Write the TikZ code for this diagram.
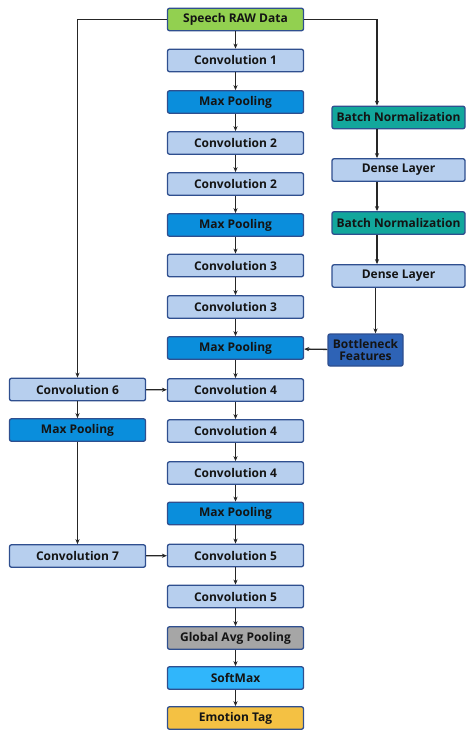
\documentclass[tikz,border=0pt]{standalone}
\usepackage{fontspec}
\setmainfont{Open Sans}
\usetikzlibrary{arrows.meta}
\definecolor{edge}{HTML}{2F4F8F}
\definecolor{rawc}{HTML}{92D050}
\definecolor{convc}{HTML}{B7CFEE}
\definecolor{poolc}{HTML}{0A8EDC}
\definecolor{bnc}{HTML}{12A79C}
\definecolor{bneckc}{HTML}{2E63B6}
\definecolor{gapc}{HTML}{A6A6A6}
\definecolor{softc}{HTML}{30B6FB}
\definecolor{tagc}{HTML}{F4C143}
\definecolor{txt}{HTML}{141414}
\tikzset{
  x=1pt, y=-1pt,
  block/.style={draw=edge, line width=1.3pt, rounded corners=2pt,
    minimum width=136pt, minimum height=22.5pt, inner sep=0pt,
    font=\bfseries\fontsize{12}{13}\selectfont, text=txt},
  conv/.style={block, fill=convc},
  pool/.style={block, fill=poolc},
  side/.style={minimum width=133pt},
  arr/.style={line width=1.3pt, draw=black!85, -{Stealth[length=5pt,width=4.2pt]}},
}
\begin{document}
\begin{tikzpicture}
\useasboundingbox (0,0) rectangle (466,730);
% main column
\node[block, fill=rawc] (raw) at (235.5,19.5) {Speech RAW Data};
\node[conv] (c1)  at (235.5,60.5) {Convolution 1};
\node[pool] (p1)  at (235.5,102)  {Max Pooling};
\node[conv] (c2a) at (235.5,143)  {Convolution 2};
\node[conv] (c2b) at (235.5,184)  {Convolution 2};
\node[pool] (p2)  at (235.5,225)  {Max Pooling};
\node[conv] (c3a) at (235.5,265.5){Convolution 3};
\node[conv] (c3b) at (235.5,307)  {Convolution 3};
\node[pool] (p3)  at (235.5,348)  {Max Pooling};
\node[conv] (c4a) at (235.5,390)  {Convolution 4};
\node[conv] (c4b) at (235.5,431)  {Convolution 4};
\node[conv] (c4c) at (235.5,473)  {Convolution 4};
\node[pool] (p4)  at (235.5,513.5){Max Pooling};
\node[conv] (c5a) at (235.5,555.5){Convolution 5};
\node[conv] (c5b) at (235.5,596.5){Convolution 5};
\node[block, fill=gapc]  (gap)  at (235.5,638) {Global Avg Pooling};
\node[block, fill=softc] (soft) at (235.5,678) {SoftMax};
\node[block, fill=tagc]  (tag)  at (235.5,718) {Emotion Tag};
% left branch
\node[conv] (c6) at (77.5,389.5) {Convolution 6};
\node[pool] (pl) at (77.5,430)   {Max Pooling};
\node[conv] (c7) at (77.5,556)   {Convolution 7};
% right branch
\node[block, side, fill=bnc] (bn1) at (398.5,117.5) {Batch Normalization};
\node[conv, side] (d1) at (398.5,170) {Dense Layer};
\node[block, side, fill=bnc] (bn2) at (398.5,223) {Batch Normalization};
\node[conv, side] (d2) at (398.5,276) {Dense Layer};
\node[block, fill=bneckc, minimum width=75pt, minimum height=32pt, align=center,
      font=\bfseries\fontsize{12}{12.5}\selectfont]
      (bneck) at (365.5,350) {Bottleneck\\Features};
\coordinate (rx) at (377,0);
\coordinate (bx) at (375.5,0);
% main chain
\foreach \a/\b in {raw/c1, c1/p1, p1/c2a, c2a/c2b, c2b/p2, p2/c3a, c3a/c3b,
  c3b/p3, p3/c4a, c4a/c4b, c4b/c4c, c4c/p4, p4/c5a, c5a/c5b, c5b/gap,
  gap/soft, soft/tag}
  \draw[arr] (\a) -- (\b);
% side paths
\draw[arr] (raw.west) -| (c6.north);
\draw[arr] (raw.east) -| (bn1.north -| rx);
\draw[arr] (bn1.south -| rx) -- (d1.north -| rx);
\draw[arr] (d1.south -| rx) -- (bn2.north -| rx);
\draw[arr] (bn2.south -| rx) -- (d2.north -| rx);
\draw[arr] (d2.south -| bx) -- (bneck.north -| bx);
\draw[arr] (bneck) -- (p3);
\draw[arr] (c6) -- (c4a);
\draw[arr] (c6) -- (pl);
\draw[arr] (pl) -- (c7);
\draw[arr] (c7) -- (c5a);
\end{tikzpicture}
\end{document}
